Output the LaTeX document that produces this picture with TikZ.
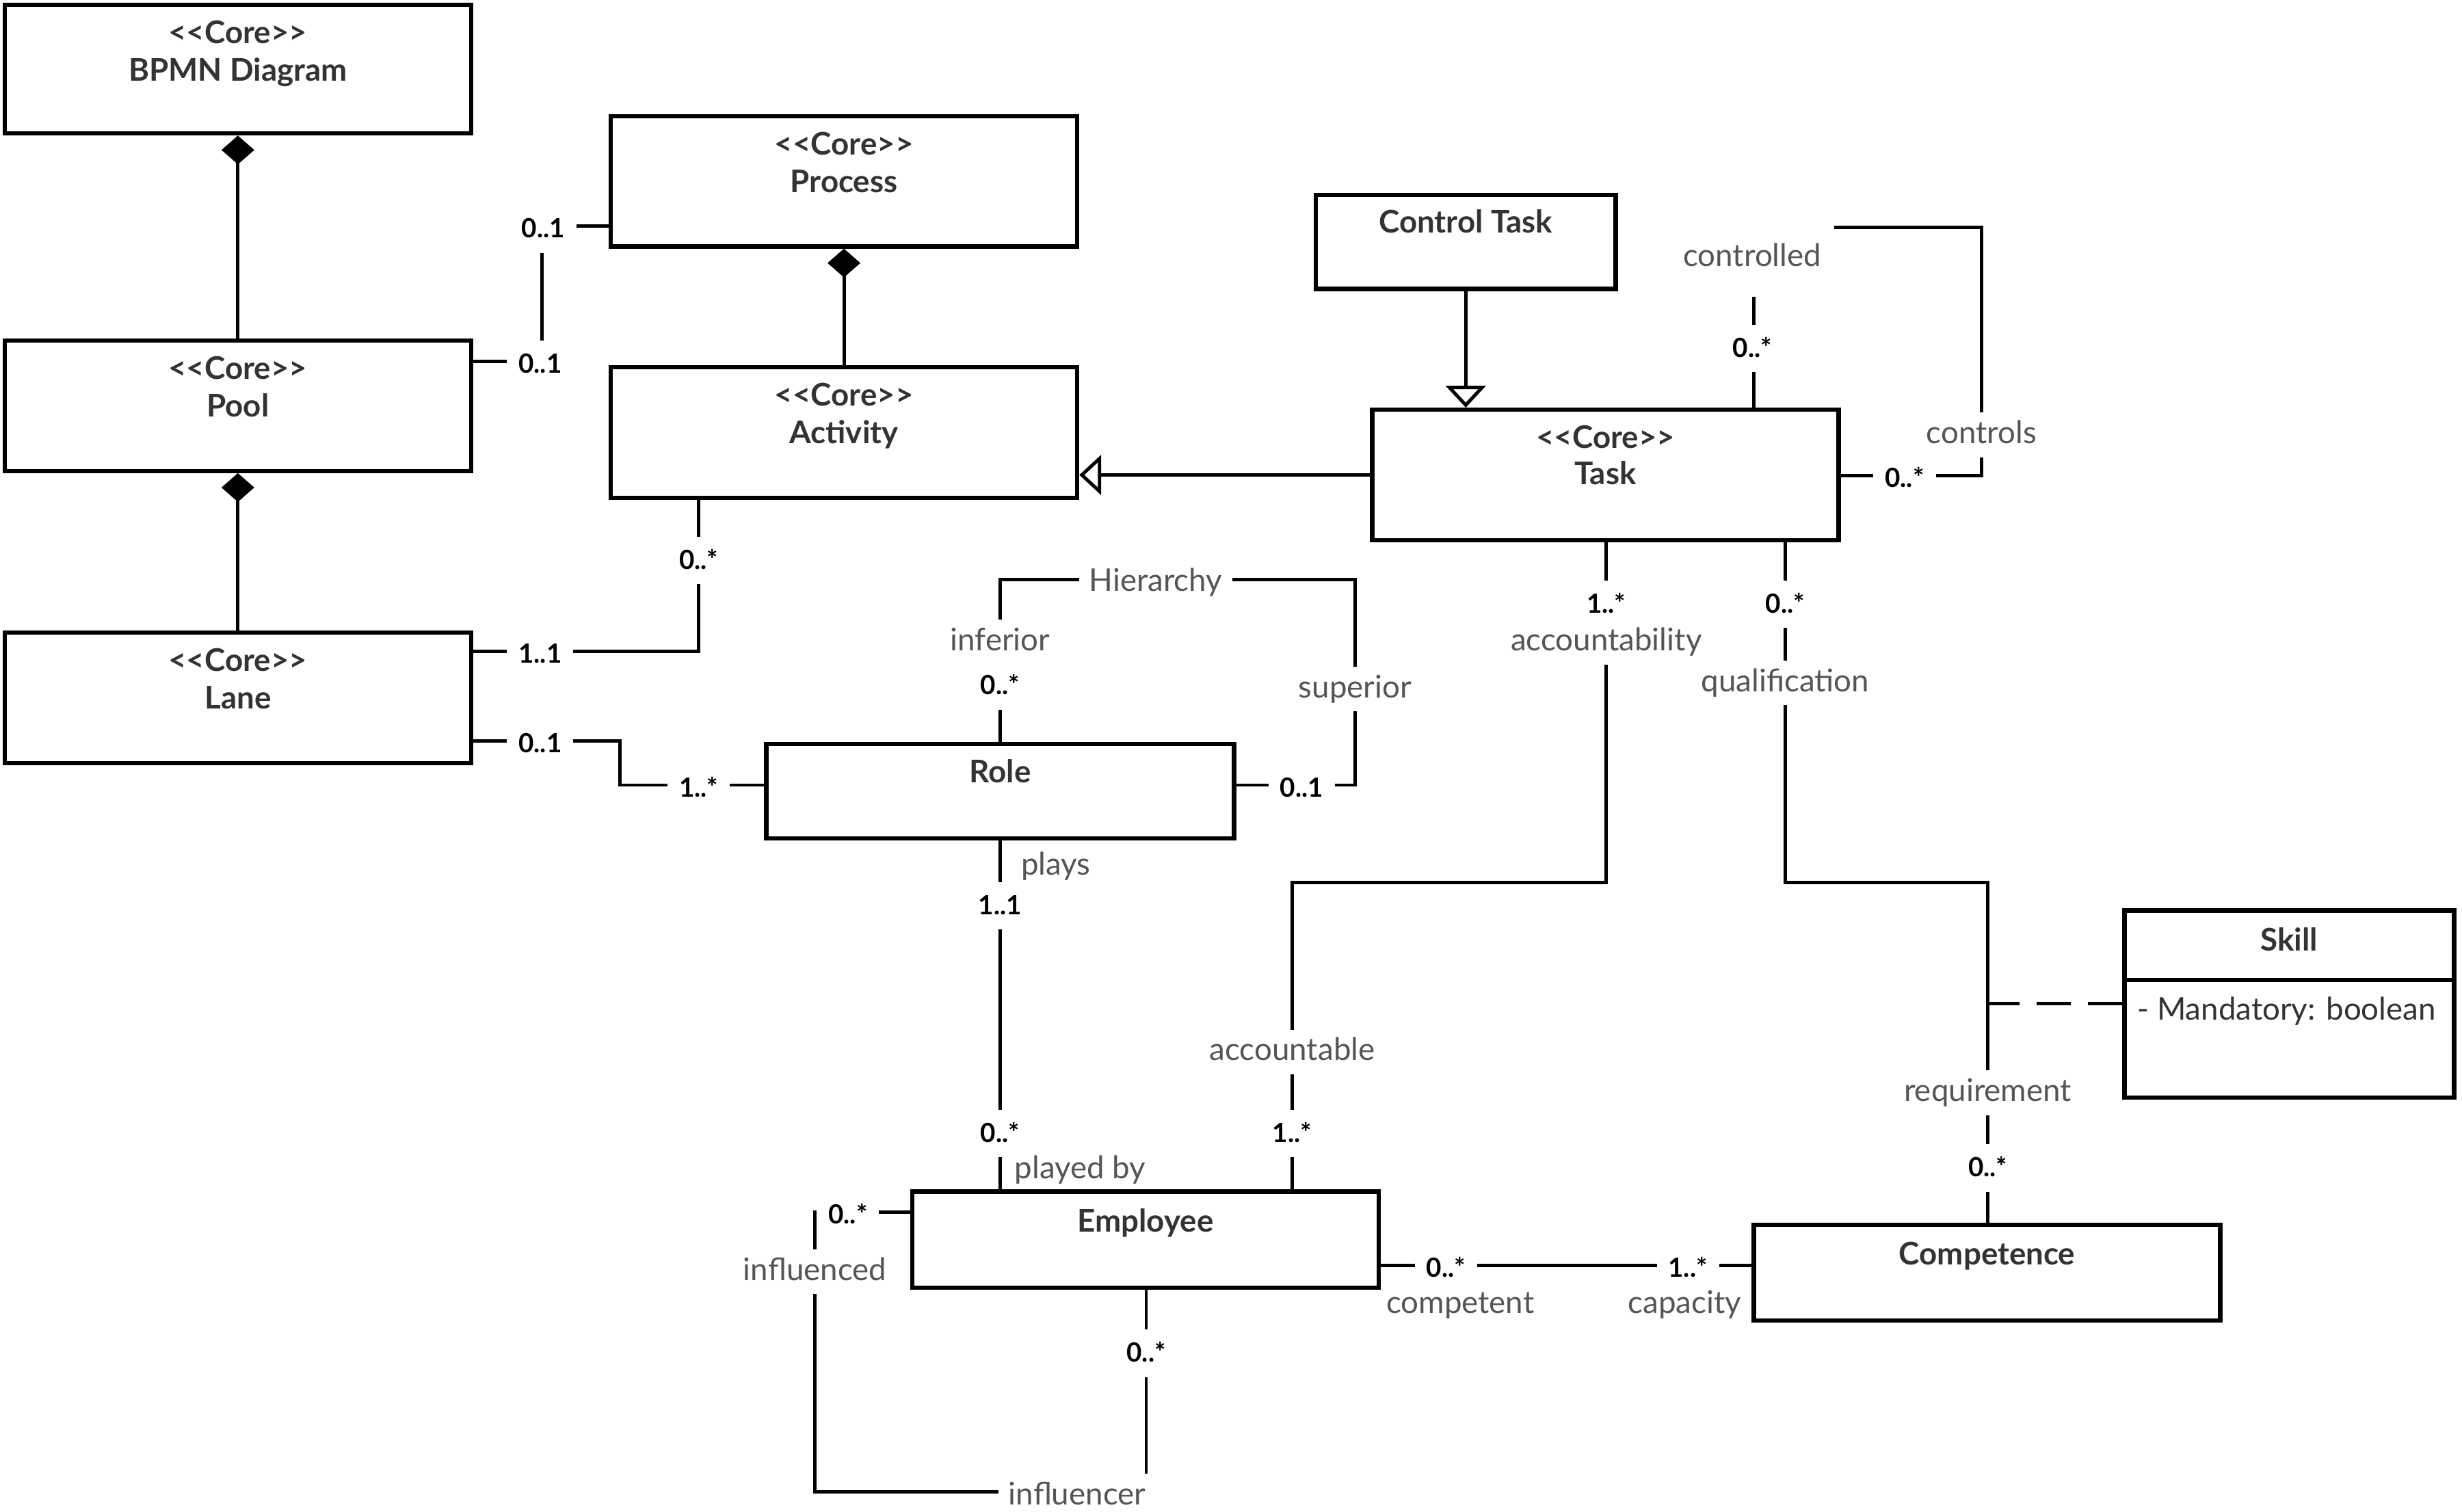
\documentclass[tikz,border=0pt]{standalone}
\usepackage{fontspec}
\setmainfont{Lato}
\usetikzlibrary{arrows.meta}
\definecolor{txt}{HTML}{333333}
\definecolor{lbl}{HTML}{555555}
\newlength\pxu
\setlength\pxu{0.02296cm}
\begin{document}
\begin{tikzpicture}[x=0.02296cm,y=-0.02296cm,
  cls/.style={draw=black, line width=1.8pt, fill=white, inner sep=0pt},
  nm/.style={font=\fontsize{13}{15}\selectfont\bfseries, text=txt, inner sep=0pt, text height=0.72em, text depth=0pt, yshift=-0.045cm},
  attr/.style={font=\fontsize{13}{15}\selectfont, text=txt, inner sep=0pt, text height=0.72em, text depth=0pt, yshift=-0.045cm},
  lab/.style={font=\fontsize{13}{15}\selectfont, text=lbl, inner sep=0pt, text height=0.72em, text depth=0pt, yshift=-0.045cm},
  labw/.style={lab, fill=white, inner xsep=0.15cm, inner ysep=0.2cm},
  mult/.style={font=\fontsize{11}{13}\selectfont\bfseries, text=black, fill=white, text height=0.72em, text depth=0pt, inner xsep=0.17cm, inner ysep=0.22cm, yshift=-0.045cm},
  conn/.style={line width=1.4pt},
  comp/.style={conn, -{Diamond[length=0.42cm,width=0.48cm]}},
  gen/.style={conn, -{Triangle[open,length=0.32cm,width=0.58cm]}},
  assocdash/.style={conn, dash pattern=on 0.5cm off 0.25cm},
]
\useasboundingbox (0,0) rectangle (1568,963);

% ---------- classes ----------
\node[cls, minimum width=297\pxu, minimum height=82\pxu] (bpmn) at (151.5,44) {};
\node[nm] (bpmnS) at (151.5,20) {<{}<Core>{}>};
\node[nm] (bpmnN) at (151.5,44) {BPMN Diagram};

\node[cls, minimum width=297\pxu, minimum height=83\pxu] (process) at (537.5,115.5) {};
\node[nm] (processS) at (537.5,91) {<{}<Core>{}>};
\node[nm] (processN) at (537.5,115) {Process};

\node[cls, minimum width=297\pxu, minimum height=83\pxu] (pool) at (151.5,258.5) {};
\node[nm] (poolS) at (151.5,234) {<{}<Core>{}>};
\node[nm] (poolN) at (151.5,258) {Pool};

\node[cls, minimum width=297\pxu, minimum height=83\pxu] (activity) at (537.5,275.5) {};
\node[nm] (activityS) at (537.5,251) {<{}<Core>{}>};
\node[nm] (activityN) at (537.5,275) {Activity};

\node[cls, minimum width=297\pxu, minimum height=83\pxu] (lane) at (151.5,444.5) {};
\node[nm] (laneS) at (151.5,420) {<{}<Core>{}>};
\node[nm] (laneN) at (151.5,444) {Lane};

\node[cls, minimum width=191\pxu, minimum height=60\pxu] (control) at (933.5,154) {};
\node[nm] (controlN) at (933.5,141) {Control Task};

\node[cls, minimum width=297\pxu, minimum height=83\pxu] (task) at (1022.5,302.5) {};
\node[nm] (taskS) at (1022.5,278) {<{}<Core>{}>};
\node[nm] (taskN) at (1022.5,301) {Task};

\node[cls, minimum width=298\pxu, minimum height=60\pxu] (role) at (637,504) {};
\node[nm] (roleN) at (637,491) {Role};

\node[cls, minimum width=297\pxu, minimum height=61\pxu] (employee) at (729.5,789.5) {};
\node[nm] (employeeN) at (729.5,777) {Employee};

\node[cls, minimum width=297\pxu, minimum height=61\pxu] (competence) at (1265.5,810.5) {};
\node[nm] (competenceN) at (1265.5,798) {Competence};

\node[cls, minimum width=210\pxu, minimum height=119\pxu] (skill) at (1458,639.5) {};
\draw[line width=1.8pt] (skill.west |- 0,624) -- (skill.east |- 0,624);
\node[nm] (skillN) at (1458,598) {Skill};
\node[attr, anchor=west] (skillA) at (1361,642) {- Mandatory: boolean};

% ---------- compositions ----------
\draw[comp] (pool.north) -- (bpmn.south);
\draw[comp] (lane.north) -- (pool.south);
\draw[comp] (activity.north) -- (process.south);

% ---------- generalizations ----------
\draw[gen] (control.south) -- (task.north -| control.south);
\draw[gen] (task.west) -- (activity.east |- task.west);

% ---------- Pool - Process ----------
\draw[conn] (pool.east |- 0,230) -| (345,144) -- (process.west |- 0,144);
\node[mult] (mPoolPr1) at (344,230) {0..1};
\node[mult] (mPoolPr2) at (346,144) {0..1};

% ---------- Activity - Lane ----------
\draw[conn] (activity.south -| 445,0) |- (lane.east |- 0,415);
\node[mult] (mActL1) at (445,355) {0..*};
\node[mult] (mActL2) at (344,415) {1..1};

% ---------- Lane - Role ----------
\draw[conn] (lane.east |- 0,472) -| (395,500) -- (role.west |- 0,500);
\node[mult] (mLR1) at (344,472) {0..1};
\node[mult] (mLR2) at (445,500) {1..*};

% ---------- Role hierarchy ----------
\draw[conn] (role.north) |- (863,369) |- (role.east |- 0,500);
\node[labw] (lHier) at (736,369) {Hierarchy};
\node[labw] (lInf) at (637,407) {inferior};
\node[mult] (mInf) at (637,435) {0..*};
\node[labw] (lSup) at (863,437) {superior};
\node[mult] (mSup) at (829,500) {0..1};

% ---------- Role - Employee ----------
\draw[conn] (role.south) -- (employee.north -| role.south);
\node[lab, anchor=west] (lPlays) at (650,550) {plays};
\node[mult] (mPlays) at (637,575) {1..1};
\node[mult] (mPlayed) at (637,720) {0..*};
\node[lab, anchor=west] (lPlayed) at (646,743) {played by};

% ---------- Task - Employee (accountability) ----------
\draw[conn] (task.south -| 1023,0) |- (823,562) -- (employee.north -| 823,0);
\node[mult] (mAcc1) at (1023,383) {1..*};
\node[labw] (lAcc1) at (1023,407) {accountability};
\node[labw] (lAcc2) at (823,668) {accountable};
\node[mult] (mAcc2) at (823,720) {1..*};

% ---------- Task - Competence (qualification) ----------
\draw[conn] (task.south -| 1137,0) |- (1266,562) -- (competence.north -| 1266,0);
\coordinate (assocPt) at (1266,639);
\draw[assocdash] (skill.west |- assocPt) -- (assocPt);
\node[mult] (mQ1) at (1137,383) {0..*};
\node[labw] (lQ1) at (1137,433) {qualification};
\node[labw] (lQ2) at (1266,694) {requirement};
\node[mult] (mQ2) at (1266,742) {0..*};

% ---------- Task controls ----------
\draw[conn] (task.north -| 1117,0) |- (1262,145) |- (task.east |- 0,303);
\node[lab, fill=white, minimum width=104\pxu, minimum height=50\pxu] (lCtrld) at (1116,162) {controlled};
\node[mult] (mCtrld) at (1116,220) {0..*};
\node[labw] (lCtrls) at (1262,275) {controls};
\node[mult] (mCtrls) at (1213,303) {0..*};

% ---------- Employee - Competence ----------
\draw[conn] (employee.east |- 0,806) -- (competence.west |- 0,806);
\node[mult] (mEC1) at (921,806) {0..*};
\node[mult] (mEC2) at (1075,806) {1..*};
\node[lab] (lComp) at (930,829) {competent};
\node[lab] (lCap) at (1073,829) {capacity};

% ---------- Employee influence ----------
\draw[conn] (employee.west |- 0,772) -| (519,950) -| (employee.south -| 730,0);
\node[mult] (mInfl1) at (540,772) {0..*};
\node[labw] (lInfl1) at (519,808) {influenced};
\node[mult] (mInfl2) at (730,860) {0..*};
\node[labw] (lInfl2) at (686,951) {influencer};
\end{tikzpicture}
\end{document}
